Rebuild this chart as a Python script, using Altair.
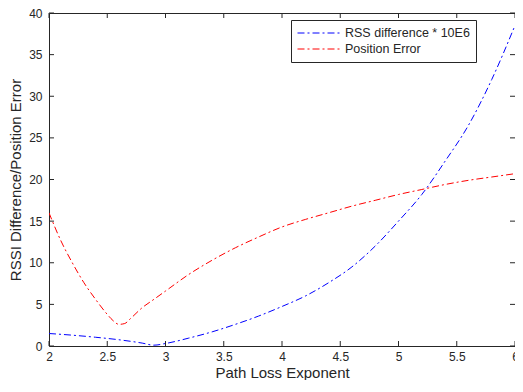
import altair as alt
import pandas as pd

# Series 1: RSS difference * 10E6
blue_x = [2.0, 2.2, 2.4, 2.6, 2.8, 2.9, 3.0, 3.2, 3.4, 3.6, 3.8, 4.0, 4.2, 4.4,
          4.6, 4.8, 5.0, 5.2, 5.4, 5.6, 5.8, 6.0]
blue_y = [1.5, 1.3, 1.05, 0.75, 0.35, 0.1, 0.3, 0.95, 1.7, 2.6, 3.6, 4.75, 6.0, 7.6,
          9.5, 12.0, 15.0, 18.2, 22.2, 26.5, 32.0, 38.5]

# Series 2: Position Error
red_x = [2.0, 2.1, 2.2, 2.3, 2.4, 2.5, 2.55, 2.6, 2.65, 2.7, 2.8, 2.9, 3.0, 3.2,
         3.4, 3.6, 3.8, 4.0, 4.2, 4.4, 4.6, 4.8, 5.0, 5.2, 5.4, 5.6, 5.8, 6.0]
red_y = [16.0, 12.7, 10.0, 7.6, 5.6, 3.8, 3.05, 2.6, 2.7, 3.3, 4.6, 5.6, 6.6, 8.6,
         10.3, 11.8, 13.1, 14.3, 15.2, 16.0, 16.8, 17.5, 18.2, 18.8, 19.4, 19.9, 20.3, 20.7]

series_names = ["RSS difference * 10E6", "Position Error"]
series_colors = ["#0000FF", "#FF0000"]

x_ticks = [2, 2.5, 3, 3.5, 4, 4.5, 5, 5.5, 6]
y_ticks = [0, 5, 10, 15, 20, 25, 30, 35, 40]

df = pd.concat([
    pd.DataFrame({"x": blue_x, "y": blue_y, "series": series_names[0]}),
    pd.DataFrame({"x": red_x, "y": red_y, "series": series_names[1]}),
])
xt = pd.DataFrame({"x": x_ticks})
yt = pd.DataFrame({"y": y_ticks})

W, H = 466, 333
FONT = "Liberation Sans"
TXT = "#262626"

xscale = alt.Scale(domain=[2, 6], nice=False, zero=False)
yscale = alt.Scale(domain=[0, 40], nice=False, zero=True)

xaxis = alt.Axis(
    values=x_ticks, format="~g", title="Path Loss Exponent", grid=False, ticks=False,
    domain=False, labelFlush=False, labelPadding=5, labelFontSize=12,
    labelFont=FONT, labelColor=TXT, titleFont=FONT, titleFontSize=15,
    titleFontWeight="normal", titleColor=TXT, titleBaseline="alphabetic",
    titleY=31)
yaxis = alt.Axis(
    values=y_ticks, format="~g", title="RSSI Difference/Position Error", grid=False,
    ticks=False, domain=False, labelFlush=False, labelPadding=7,
    labelFontSize=12, labelFont=FONT, labelColor=TXT, titleFont=FONT,
    titleFontSize=15, titleFontWeight="normal", titleColor=TXT,
    titleBaseline="alphabetic", titleX=-29)

lines = alt.Chart(df).mark_line(
    strokeWidth=1, strokeDash=[7, 3, 2, 3], interpolate="monotone", clip=True
).encode(
    x=alt.X("x:Q", scale=xscale, axis=xaxis),
    y=alt.Y("y:Q", scale=yscale, axis=yaxis),
    color=alt.Color("series:N", scale=alt.Scale(domain=series_names, range=series_colors),
                    legend=alt.Legend(
                        title=None, orient="none", legendX=242, legendY=7,
                        direction="vertical", symbolType="stroke",
                        symbolDash=[7, 3, 2, 3], symbolStrokeWidth=1,
                        symbolSize=1849, clipHeight=14, labelFont=FONT,
                        labelFontSize=12.5, labelColor=TXT, labelOffset=4,
                        rowPadding=2, padding=6, strokeColor=TXT,
                        fillColor="white", cornerRadius=0)),
)

tick_len = 5
bottom_ticks = alt.Chart(xt).mark_rule(color=TXT, strokeWidth=1).encode(
    x=alt.X("x:Q", scale=xscale, axis=xaxis), y=alt.value(H), y2=alt.value(H - tick_len))
top_ticks = alt.Chart(xt).mark_rule(color=TXT, strokeWidth=1).encode(
    x=alt.X("x:Q", scale=xscale, axis=xaxis), y=alt.value(0), y2=alt.value(tick_len))
left_ticks = alt.Chart(yt).mark_rule(color=TXT, strokeWidth=1).encode(
    y=alt.Y("y:Q", scale=yscale, axis=yaxis), x=alt.value(0), x2=alt.value(tick_len))
right_ticks = alt.Chart(yt).mark_rule(color=TXT, strokeWidth=1).encode(
    y=alt.Y("y:Q", scale=yscale, axis=yaxis), x=alt.value(W), x2=alt.value(W - tick_len))

chart = alt.layer(lines, bottom_ticks, top_ticks, left_ticks, right_ticks).properties(
    width=W, height=H,
    autosize=alt.AutoSizeParams(type="none"),
    padding={"left": 41, "top": 5, "right": 0, "bottom": 34},
    background="white",
).configure_view(stroke=TXT, strokeWidth=1)

chart.save("out.html", embed_options={"renderer": "svg", "actions": False})
